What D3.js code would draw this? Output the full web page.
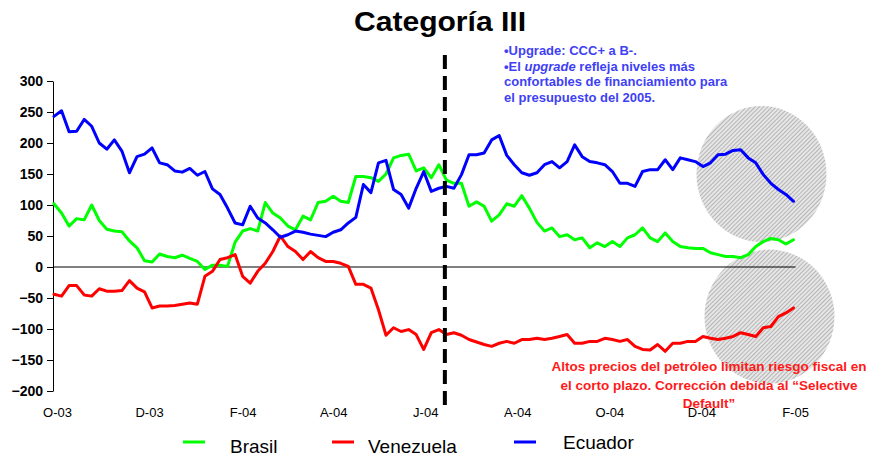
<!DOCTYPE html>
<html>
<head>
<meta charset="utf-8">
<script src="https://cdn.jsdelivr.net/npm/d3@7"></script>
<style>
  body { margin: 0; background: #fff; }
  svg { display: block; font-family: "Liberation Sans", Arial, sans-serif; }
</style>
</head>
<body>
<svg id="chart" width="880" height="456"></svg>
<script>
// Spreads (pb) sampled every five days
const firstDate = "2003-09-29";
const stepDays = 5;

const brasil = [102, 87, 66, 78, 76, 100, 75, 61, 58, 57, 42, 31, 10, 8, 21, 17, 15, 19, 14, 9,
  -4, 3, 3, 1, 40, 58, 62, 58, 104, 87, 79, 66, 60, 82, 76, 104, 106, 114, 106, 104,
  146, 146, 144, 138, 150, 176, 180, 182, 155, 160, 144, 165, 140, 135, 135, 98, 105, 98, 74, 84,
  102, 98, 115, 95, 72, 58, 63, 49, 52, 44, 47, 31, 39, 33, 41, 33, 47, 52, 63, 47,
  41, 55, 41, 33, 31, 30, 30, 23, 20, 17, 17, 15, 20, 33, 41, 46, 44, 37, 44];

const venezuela = [-44, -47, -30, -30, -45, -47, -35, -39, -39, -38, -22, -34, -40, -66, -63, -63, -62, -60, -58, -60,
  -15, -7, 12, 15, 20, -15, -26, -7, 6, 25, 50, 33, 25, 12, 25, 15, 9, 9, 6, 1,
  -28, -28, -34, -69, -110, -98, -104, -101, -109, -133, -106, -101, -109, -106, -110, -117, -121, -125, -128, -123,
  -120, -123, -117, -117, -115, -117, -115, -112, -109, -123, -123, -120, -120, -115, -117, -120, -117, -128, -133, -134,
  -125, -136, -123, -123, -120, -120, -112, -115, -117, -115, -112, -106, -109, -112, -98, -96, -80, -74, -66];

const ecuador = [243, 252, 218, 219, 238, 227, 200, 190, 205, 187, 152, 178, 182, 192, 168, 165, 155, 153, 159, 148,
  154, 126, 117, 95, 71, 68, 98, 79, 71, 60, 48, 52, 58, 56, 53, 51, 49, 56, 60, 71,
  80, 133, 120, 168, 172, 125, 117, 95, 127, 154, 122, 127, 130, 127, 149, 181, 181, 184, 205, 212,
  180, 165, 152, 148, 152, 165, 170, 160, 170, 197, 178, 170, 168, 165, 154, 135, 135, 130, 154, 157,
  157, 173, 157, 176, 173, 170, 162, 168, 181, 182, 188, 189, 176, 168, 149, 135, 125, 117, 106];

const seriesNames = ["Brasil", "Venezuela", "Ecuador"];
const seriesColors = ["#00ff00", "#ff0000", "#0000ff"];

const yTicks = [300, 250, 200, 150, 100, 50, 0, -50, -100, -150, -200];
const monthInitials = ["E", "F", "M", "A", "M", "J", "J", "A", "S", "O", "N", "D"];
const axisStart = "2003-10-01";
const axisEnd = "2005-02-01";
const upgradeDate = "2004-06-14";

const titleText = "Categoría III";
const upgradeNote = [
  [{ t: "•Upgrade: CCC+ a B-." }],
  [{ t: "•El " }, { t: "upgrade", i: true }, { t: " refleja niveles más" }],
  [{ t: "confortables de financiamiento para" }],
  [{ t: "el presupuesto del 2005." }]
];
const oilNote = [
  "Altos precios del petróleo limitan riesgo fiscal en",
  "el corto plazo. Corrección debida al “Selective",
  "Default”"
];

const parse = d3.timeParse("%Y-%m-%d");
const start = parse(firstDate);
const dates = brasil.map((_, i) => d3.timeDay.offset(start, i * stepDays));
const series = [brasil, venezuela, ecuador];

const svg = d3.select("#chart");

const x = d3.scaleTime().domain([parse(axisStart), parse(axisEnd)]).range([57, 795]);
const y = d3.scaleLinear().domain([-200, 300]).range([391, 81]);
const axisX = 53;

// hatched fill for the highlight circles
const defs = svg.append("defs");
const pat = defs.append("pattern")
  .attr("id", "hatch").attr("patternUnits", "userSpaceOnUse")
  .attr("width", 3).attr("height", 3)
  .attr("patternTransform", "rotate(45)");
pat.append("rect").attr("width", 3).attr("height", 3).attr("fill", "#e6e6e6");
pat.append("line").attr("x1", 0).attr("y1", 0).attr("x2", 0).attr("y2", 3)
  .attr("stroke", "#9a9a9a").attr("stroke-width", 1.3);

const lastDate = dates[dates.length - 1];
svg.append("ellipse")
  .attr("cx", x(lastDate) - 32).attr("cy", y(150))
  .attr("rx", 65).attr("ry", 68).attr("fill", "url(#hatch)");
svg.append("ellipse")
  .attr("cx", x(lastDate) - 24).attr("cy", y(-80))
  .attr("rx", 65).attr("ry", 67).attr("fill", "url(#hatch)");

// title (condensed bold)
svg.append("text")
  .attr("x", 354).attr("y", 31)
  .attr("textLength", 172).attr("lengthAdjust", "spacingAndGlyphs")
  .attr("font-weight", "bold").attr("font-size", 27)
  .text(titleText);

// y axis
const yAxis = svg.append("g")
  .attr("transform", `translate(${axisX},0)`)
  .call(d3.axisLeft(y).tickValues(yTicks).tickSize(6).tickSizeOuter(0).tickPadding(4).tickFormat(d3.format("d")));
yAxis.select(".domain").attr("stroke", "#000").attr("stroke-width", 1);
yAxis.selectAll(".tick line").attr("stroke", "#000");
yAxis.selectAll("text")
  .attr("font-size", 14).attr("font-weight", "bold").attr("fill", "#000")
  .attr("font-family", "'Liberation Sans', Arial, sans-serif");

// x axis labels, every second month
const monthFmt = d => monthInitials[d.getMonth()] + "-" + d3.timeFormat("%y")(d);
const xTickDates = d3.timeMonth.range(parse(axisStart), d3.timeDay.offset(parse(axisEnd), 1), 2);
const xAxis = svg.append("g")
  .attr("transform", "translate(0,405)")
  .call(d3.axisBottom(x).tickValues(xTickDates).tickSize(0).tickPadding(3).tickFormat(monthFmt));
xAxis.select(".domain").remove();
xAxis.selectAll("text")
  .attr("font-size", 13).attr("fill", "#000")
  .attr("font-family", "'Liberation Sans', Arial, sans-serif");

// zero line
svg.append("line")
  .attr("x1", axisX).attr("x2", x(lastDate) + 2)
  .attr("y1", y(0)).attr("y2", y(0))
  .attr("stroke", "#000").attr("stroke-width", 1);

// series lines
const line = d3.line().x((d, i) => x(dates[i])).y(d => y(d));
series.forEach((s, k) => {
  svg.append("path")
    .datum(s)
    .attr("d", line)
    .attr("fill", "none")
    .attr("stroke", seriesColors[k])
    .attr("stroke-width", 3)
    .attr("stroke-linejoin", "round")
    .attr("stroke-linecap", "round");
});

// upgrade marker
svg.append("line")
  .attr("x1", x(parse(upgradeDate))).attr("x2", x(parse(upgradeDate)))
  .attr("y1", 55).attr("y2", 405)
  .attr("stroke", "#000").attr("stroke-width", 4)
  .attr("stroke-dasharray", "14,7");

// upgrade note
const note = svg.append("text")
  .attr("font-size", 13).attr("font-weight", "bold").attr("fill", "#3f3ff5")
  .attr("font-family", "'Liberation Sans', Arial, sans-serif");
upgradeNote.forEach((parts, li) => {
  parts.forEach((p, pi) => {
    const ts = note.append("tspan").text(p.t);
    if (pi === 0) ts.attr("x", 504).attr("y", 55 + li * 15.5);
    if (p.i) ts.attr("font-style", "italic");
  });
});

// oil note
const oil = svg.append("text")
  .attr("font-size", 13.5).attr("font-weight", "bold").attr("fill", "#ff1a1a")
  .attr("text-anchor", "middle")
  .attr("font-family", "'Liberation Sans', Arial, sans-serif");
oilNote.forEach((t, li) => {
  oil.append("tspan").attr("x", 709).attr("y", 371 + li * 18.5).text(t);
});

// legend
const legendX = [183, 332, 514];
const legendTextX = [230, 368, 563];
const legendBase = [453, 453, 449];
seriesNames.forEach((n, k) => {
  svg.append("line")
    .attr("x1", legendX[k]).attr("x2", legendX[k] + 22)
    .attr("y1", 442).attr("y2", 442)
    .attr("stroke", seriesColors[k]).attr("stroke-width", 3);
  svg.append("text")
    .attr("x", legendTextX[k]).attr("y", legendBase[k])
    .attr("font-size", 19).attr("fill", "#000")
    .attr("font-family", "'Liberation Sans', Arial, sans-serif")
    .text(n);
});
</script>
</body>
</html>
